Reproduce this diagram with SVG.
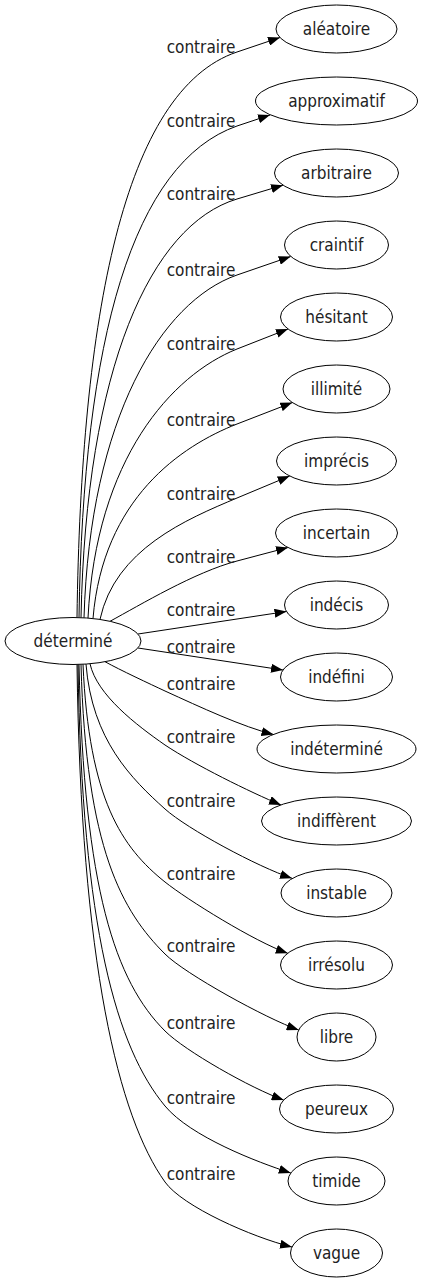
<svg xmlns="http://www.w3.org/2000/svg" width="423" height="1283" viewBox="0 0 423 1283">
<style>
.n ellipse{fill:#fff;stroke:#000;stroke-width:1}
text{font-family:"DejaVu Sans Condensed","DejaVu Sans",sans-serif;font-stretch:condensed;font-size:17px;fill:#222;text-anchor:middle}
.e path{fill:none;stroke:#000;stroke-width:1;marker-end:url(#arr)}
</style>
<defs>
<marker id="arr" viewBox="0 0 12 9" refX="12" refY="4.5" markerWidth="12" markerHeight="9" markerUnits="userSpaceOnUse" orient="auto"><path d="M0,0 L12,4.5 L0,9 z" fill="#000"/></marker>
</defs>
<rect width="423" height="1283" fill="#fff"/>
<g id="edges" class="e">
<path d="M77,617.5 C81,317.5 123.4,90.3 237,52 L280,37.5"/>
<path d="M79,617.6 C83,337.6 133.3,162.4 237,126 L270,115"/>
<path d="M81,617.7 C86,367.7 150.8,225 237,199 L283,185.2"/>
<path d="M84,617.8 C90,417.8 161.4,301.4 237,275 L290.7,256.5"/>
<path d="M88,618.1 C96,458 172.1,375.1 237,349 L288,329"/>
<path d="M93,618.5 C103,498.5 181.1,445.9 237,424 L292.3,402.6"/>
<path d="M100,619.4 C115,549.4 186.3,519.3 237,498 L289.7,476"/>
<path d="M110,621.3 C140,605 195,572 237,561 L288,547.5"/>
<path d="M138,634 L286.5,611.5"/>
<path d="M138,648 L283,670"/>
<path d="M105,661.7 C120,670 150,684 165,691 C200,707 243,727 273.5,734.5"/>
<path d="M90,663.8 C97,695 136.3,725 165,745 C195,765 250,792 281,805"/>
<path d="M86,664.1 C92,740 131.6,778.9 165,809 C187.3,829 257.5,866.7 292,878.3"/>
<path d="M83,664.2 C89,800 122,847.6 165,882 C186.9,899.5 254.8,941.7 287.8,953.3"/>
<path d="M81,664.3 C86,850 122.6,911.6 165,954 C184.8,973.8 266,1018.5 298.7,1030"/>
<path d="M79,664.4 C84,890 115.5,981.5 165,1031 C184.8,1050.8 251,1088.4 283.7,1100"/>
<path d="M78,664.4 C82,930 117,1048 165,1106 C190.6,1136.7 257.3,1162.2 290.8,1173"/>
<path d="M77,664.5 C81,964 118.5,1116.9 165,1182 C182.4,1206.4 252.2,1237.3 292,1247"/>
</g>
<g id="edge-labels">
<text x="201" y="53">contraire</text>
<text x="201" y="127">contraire</text>
<text x="201" y="200">contraire</text>
<text x="201" y="276">contraire</text>
<text x="201" y="350">contraire</text>
<text x="201" y="426">contraire</text>
<text x="201" y="500">contraire</text>
<text x="201" y="563">contraire</text>
<text x="201" y="616">contraire</text>
<text x="201" y="653">contraire</text>
<text x="201" y="690">contraire</text>
<text x="201" y="743">contraire</text>
<text x="201" y="807">contraire</text>
<text x="201" y="880">contraire</text>
<text x="201" y="952">contraire</text>
<text x="201" y="1029">contraire</text>
<text x="201" y="1104">contraire</text>
<text x="201" y="1180">contraire</text>
</g>
<g id="n-determine" class="n"><ellipse cx="73" cy="641" rx="68" ry="23.5"/><text x="73" y="647">déterminé</text></g>
<g id="n-aleatoire" class="n"><ellipse cx="336.5" cy="29" rx="60.5" ry="24"/><text x="336.5" y="35">aléatoire</text></g>
<g id="n-approximatif" class="n"><ellipse cx="336.5" cy="101" rx="81" ry="24"/><text x="336.5" y="107">approximatif</text></g>
<g id="n-arbitraire" class="n"><ellipse cx="336.5" cy="173" rx="62" ry="24"/><text x="336.5" y="179">arbitraire</text></g>
<g id="n-craintif" class="n"><ellipse cx="336.5" cy="245" rx="52" ry="24"/><text x="336.5" y="251">craintif</text></g>
<g id="n-hesitant" class="n"><ellipse cx="336.5" cy="317" rx="56" ry="24"/><text x="336.5" y="323">hésitant</text></g>
<g id="n-illimite" class="n"><ellipse cx="336.5" cy="389" rx="53.5" ry="24"/><text x="336.5" y="395">illimité</text></g>
<g id="n-imprecis" class="n"><ellipse cx="336.5" cy="461" rx="60" ry="24"/><text x="336.5" y="467">imprécis</text></g>
<g id="n-incertain" class="n"><ellipse cx="336.5" cy="533" rx="61" ry="24"/><text x="336.5" y="539">incertain</text></g>
<g id="n-indecis" class="n"><ellipse cx="336.5" cy="605" rx="52" ry="24"/><text x="336.5" y="611">indécis</text></g>
<g id="n-indefini" class="n"><ellipse cx="336.5" cy="677" rx="56" ry="24"/><text x="336.5" y="683">indéfini</text></g>
<g id="n-indetermine" class="n"><ellipse cx="336.5" cy="749" rx="79.5" ry="24"/><text x="336.5" y="755">indéterminé</text></g>
<g id="n-indifferent" class="n"><ellipse cx="336.5" cy="821" rx="75" ry="24"/><text x="336.5" y="827">indiffèrent</text></g>
<g id="n-instable" class="n"><ellipse cx="336.5" cy="893" rx="55.5" ry="24"/><text x="336.5" y="899">instable</text></g>
<g id="n-irresolu" class="n"><ellipse cx="336.5" cy="965" rx="56" ry="24"/><text x="336.5" y="971">irrésolu</text></g>
<g id="n-libre" class="n"><ellipse cx="336.5" cy="1037" rx="39.5" ry="24"/><text x="336.5" y="1043">libre</text></g>
<g id="n-peureux" class="n"><ellipse cx="336.5" cy="1109" rx="57" ry="24"/><text x="336.5" y="1115">peureux</text></g>
<g id="n-timide" class="n"><ellipse cx="336.5" cy="1181" rx="48.5" ry="24"/><text x="336.5" y="1187">timide</text></g>
<g id="n-vague" class="n"><ellipse cx="336.5" cy="1253" rx="46" ry="24"/><text x="336.5" y="1259">vague</text></g>
</svg>
